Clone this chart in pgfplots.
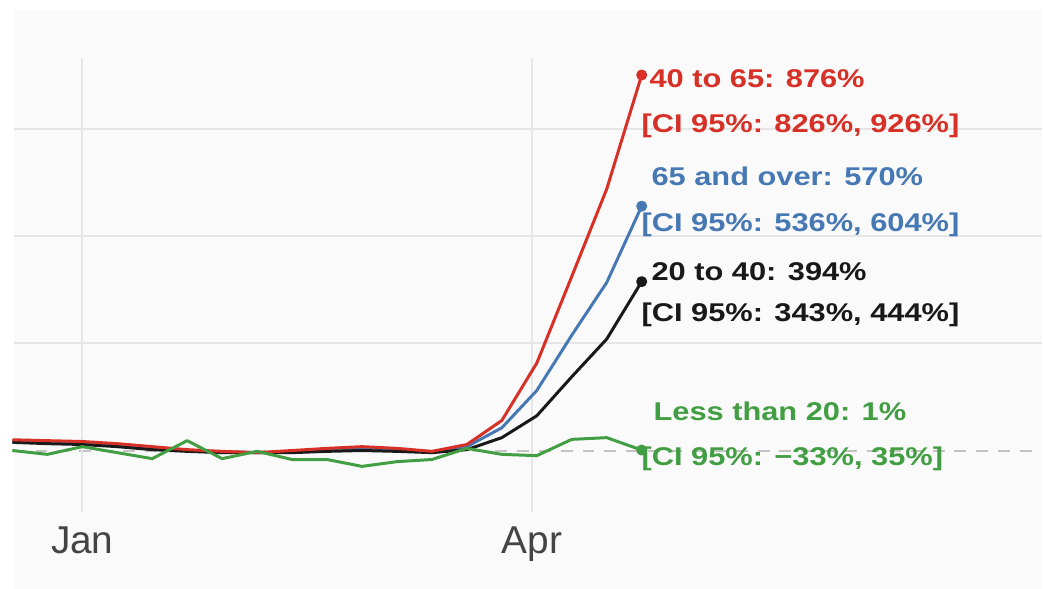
\documentclass[border=0pt]{standalone}
\usepackage{fontspec}
\setmainfont{Liberation Sans}
\newfontfamily\annfont[FakeStretch=1.2]{Liberation Sans}
\usepackage{pgfplots}
\pgfplotsset{compat=1.18}

\definecolor{cred}{RGB}{215,48,39}
\definecolor{cblue}{RGB}{70,120,180}
\definecolor{cblack}{RGB}{25,25,25}
\definecolor{cgreen}{RGB}{66,158,66}
\definecolor{panel}{RGB}{250,250,250}
\definecolor{gridc}{RGB}{230,230,230}
\definecolor{tickc}{RGB}{68,68,68}

% x = days from 1 Jan, y = change in percent
\begin{document}
\begin{tikzpicture}
\begin{axis}[
    scale only axis,
    width=517pt, height=291pt,
    xmin=-13.74, xmax=192.15,
    ymin=-322.5, ymax=1027.8,
    axis line style={draw=none},
    axis background/.style={fill=panel},
    xtick={0,90}, xticklabels={Jan,Apr},
    xticklabel style={anchor=base, yshift=17.5pt, font=\fontsize{19.5}{22}\selectfont, text=tickc},
    ytick={250,500,750}, yticklabels={},
    major tick length=0pt,
    ymajorgrids,
    grid style={gridc, line width=1pt},
    extra y ticks={0}, extra y tick labels={},
    extra y tick style={grid style={draw={rgb,255:red,195;green,195;blue,195}, line width=1pt, dash pattern=on 6pt off 5pt}},
    clip=false,
    every axis plot/.append style={line width=1.5pt, line join=round},
]
\draw[gridc, line width=1pt] (axis cs:0,-144) -- (axis cs:0,916);
\draw[gridc, line width=1pt] (axis cs:90,-144) -- (axis cs:90,916);

\addplot[cblue, mark=*, mark indices={19}, mark size=2pt] coordinates {
(-14,22) (-7,20) (0,17) (7,12) (14,6) (21,0) (28,-3) (35,-5) (42,-3) (49,2)
(56,5) (63,2) (70,-3) (77,9) (84,53) (91,140) (98,269) (105,392) (112,570)};
\addplot[cblack, mark=*, mark indices={19}, mark size=2pt] coordinates {
(-14,19) (-7,16) (0,14) (7,9) (14,2) (21,-2) (28,-5) (35,-5) (42,-5) (49,-2)
(56,0) (63,-2) (70,-5) (77,2) (84,30) (91,81) (98,172) (105,260) (112,394)};
\addplot[cred, mark=*, mark indices={19}, mark size=2pt] coordinates {
(-14,25) (-7,23) (0,21) (7,16) (14,9) (21,2) (28,-2) (35,-5) (42,0) (49,5)
(56,9) (63,5) (70,-2) (77,14) (84,70) (91,204) (98,406) (105,610) (112,876)};
\addplot[cgreen, mark=*, mark indices={19}, mark size=2pt] coordinates {
(-14,0) (-7,-9) (0,9) (7,-5) (14,-19) (21,23) (28,-19) (35,-2) (42,-21) (49,-21)
(56,-37) (63,-26) (70,-21) (77,5) (84,-9) (91,-12) (98,26) (105,30) (112,1)};

\begin{scope}[every node/.style={anchor=base west, inner sep=0pt, font=\annfont\bfseries\fontsize{12.9}{15}\selectfont}]
\node[text=cred]   at (axis cs:113.5,846.9) {40 to 65: 876\%};
\node[text=cred]   at (axis cs:111.9,742.5) {[CI 95\%: 826\%, 926\%]};
\node[text=cblue]  at (axis cs:113.9,617.2) {65 and over: 570\%};
\node[text=cblue]  at (axis cs:111.9,510.4) {[CI 95\%: 536\%, 604\%]};
\node[text=cblack] at (axis cs:113.9,396.8) {20 to 40: 394\%};
\node[text=cblack] at (axis cs:111.9,301.6) {[CI 95\%: 343\%, 444\%]};
\node[text=cgreen] at (axis cs:114.3,69.6)  {Less than 20: 1\%};
\node[text=cgreen] at (axis cs:111.9,-34.8) {[CI 95\%: −33\%, 35\%]};
\end{scope}
\end{axis}
\path[use as bounding box] ([xshift=-4.5pt]current axis.south west) rectangle ([yshift=5pt]current axis.north east);
\end{tikzpicture}
\end{document}
